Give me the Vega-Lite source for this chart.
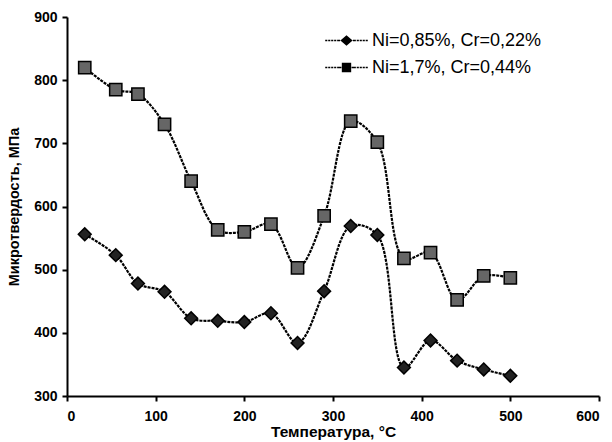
{
  "$schema": "https://vega.github.io/schema/vega-lite/v6.json",
  "width": 532,
  "height": 379,
  "autosize": {"type": "none"},
  "padding": {"left": 67, "top": 17, "right": 13, "bottom": 46},
  "background": "white",
  "config": {
    "view": {"stroke": null},
    "font": "Liberation Sans",
    "axis": {
      "grid": false,
      "domainColor": "black",
      "domainWidth": 2,
      "tickColor": "black",
      "tickWidth": 2,
      "tickSize": 5,
      "labelFont": "Liberation Sans",
      "labelFontWeight": "bold",
      "labelFontSize": 14,
      "labelColor": "black",
      "titleFont": "Liberation Sans",
      "titleFontWeight": "bold",
      "titleFontSize": 14.5,
      "titleColor": "black"
    }
  },
  "data": {
    "values": [
      {"t": 20, "v": 556, "s": "Ni=0,85%, Cr=0,22%"},
      {"t": 55, "v": 523, "s": "Ni=0,85%, Cr=0,22%"},
      {"t": 80, "v": 478, "s": "Ni=0,85%, Cr=0,22%"},
      {"t": 110, "v": 465, "s": "Ni=0,85%, Cr=0,22%"},
      {"t": 140, "v": 423, "s": "Ni=0,85%, Cr=0,22%"},
      {"t": 170, "v": 419, "s": "Ni=0,85%, Cr=0,22%"},
      {"t": 200, "v": 417, "s": "Ni=0,85%, Cr=0,22%"},
      {"t": 230, "v": 431, "s": "Ni=0,85%, Cr=0,22%"},
      {"t": 260, "v": 384, "s": "Ni=0,85%, Cr=0,22%"},
      {"t": 290, "v": 466, "s": "Ni=0,85%, Cr=0,22%"},
      {"t": 320, "v": 569, "s": "Ni=0,85%, Cr=0,22%"},
      {"t": 350, "v": 555, "s": "Ni=0,85%, Cr=0,22%"},
      {"t": 380, "v": 345, "s": "Ni=0,85%, Cr=0,22%"},
      {"t": 410, "v": 388, "s": "Ni=0,85%, Cr=0,22%"},
      {"t": 440, "v": 356, "s": "Ni=0,85%, Cr=0,22%"},
      {"t": 470, "v": 342, "s": "Ni=0,85%, Cr=0,22%"},
      {"t": 500, "v": 332, "s": "Ni=0,85%, Cr=0,22%"},
      {"t": 20, "v": 820, "s": "Ni=1,7%, Cr=0,44%"},
      {"t": 55, "v": 785, "s": "Ni=1,7%, Cr=0,44%"},
      {"t": 80, "v": 778, "s": "Ni=1,7%, Cr=0,44%"},
      {"t": 110, "v": 730, "s": "Ni=1,7%, Cr=0,44%"},
      {"t": 140, "v": 640, "s": "Ni=1,7%, Cr=0,44%"},
      {"t": 170, "v": 563, "s": "Ni=1,7%, Cr=0,44%"},
      {"t": 200, "v": 560, "s": "Ni=1,7%, Cr=0,44%"},
      {"t": 230, "v": 572, "s": "Ni=1,7%, Cr=0,44%"},
      {"t": 260, "v": 503, "s": "Ni=1,7%, Cr=0,44%"},
      {"t": 290, "v": 585, "s": "Ni=1,7%, Cr=0,44%"},
      {"t": 320, "v": 735, "s": "Ni=1,7%, Cr=0,44%"},
      {"t": 350, "v": 702, "s": "Ni=1,7%, Cr=0,44%"},
      {"t": 380, "v": 518, "s": "Ni=1,7%, Cr=0,44%"},
      {"t": 410, "v": 527, "s": "Ni=1,7%, Cr=0,44%"},
      {"t": 440, "v": 452, "s": "Ni=1,7%, Cr=0,44%"},
      {"t": 470, "v": 490, "s": "Ni=1,7%, Cr=0,44%"},
      {"t": 500, "v": 487, "s": "Ni=1,7%, Cr=0,44%"}
    ]
  },
  "encoding": {
    "x": {
      "field": "t", "type": "quantitative",
      "scale": {"domain": [0, 600], "nice": false},
      "axis": {"values": [0, 100, 200, 300, 400, 500, 600], "title": "Температура, °C", "labelPadding": 8, "titlePadding": 1, "titleFontSize": 15.5}
    },
    "y": {
      "field": "v", "type": "quantitative",
      "scale": {"domain": [300, 900], "nice": false, "zero": false},
      "axis": {"values": [300, 400, 500, 600, 700, 800, 900], "title": "Микротвердость, МПа", "labelPadding": 5, "titlePadding": 12}
    }
  },
  "resolve": {"scale": {"shape": "independent"}, "legend": {"shape": "independent"}},
  "layer": [
    {
      "mark": {"type": "line", "interpolate": "catmull-rom", "color": "black", "strokeWidth": 2.2, "strokeDash": [3, 1]},
      "encoding": {"detail": {"field": "s"}}
    },
    {
      "mark": {"type": "point", "filled": true, "opacity": 1, "strokeWidth": 1.5},
      "encoding": {
        "shape": {
          "field": "s", "type": "nominal",
          "scale": {"domain": ["Ni=0,85%, Cr=0,22%", "Ni=1,7%, Cr=0,44%"], "range": ["diamond", "square"]},
          "legend": null
        },
        "size": {"condition": {"test": "datum.s === 'Ni=1,7%, Cr=0,44%'", "value": 150}, "value": 165},
        "fill": {"condition": {"test": "datum.s === 'Ni=1,7%, Cr=0,44%'", "value": "#666"}, "value": "#222"},
        "stroke": {"value": "black"}
      }
    },
    {
      "mark": {"type": "point", "filled": true, "opacity": 1, "strokeWidth": 1, "size": 0},
      "encoding": {
        "shape": {
          "field": "s", "type": "nominal",
          "scale": {
            "domain": ["Ni=0,85%, Cr=0,22%", "Ni=1,7%, Cr=0,44%"],
            "range": [
              "M-2.5,-0.09L-2.25,-0.09L-2.25,0.09L-2.5,0.09ZM-2.15,-0.09L-1.9,-0.09L-1.9,0.09L-2.15,0.09ZM-1.8,-0.09L-1.55,-0.09L-1.55,0.09L-1.8,0.09ZM-1.45,-0.09L-1.2,-0.09L-1.2,0.09L-1.45,0.09ZM-1.1,-0.09L-0.75,-0.09L-0.75,0.09L-1.1,0.09ZM-0.72,0L0,-0.62L0.72,0L0,0.62ZM0.75,-0.09L1.1,-0.09L1.1,0.09L0.75,0.09ZM1.2,-0.09L1.45,-0.09L1.45,0.09L1.2,0.09ZM1.55,-0.09L1.8,-0.09L1.8,0.09L1.55,0.09ZM1.9,-0.09L2.15,-0.09L2.15,0.09L1.9,0.09ZM2.25,-0.09L2.5,-0.09L2.5,0.09L2.25,0.09Z",
              "M-2.5,-0.09L-2.25,-0.09L-2.25,0.09L-2.5,0.09ZM-2.15,-0.09L-1.9,-0.09L-1.9,0.09L-2.15,0.09ZM-1.8,-0.09L-1.55,-0.09L-1.55,0.09L-1.8,0.09ZM-1.45,-0.09L-1.2,-0.09L-1.2,0.09L-1.45,0.09ZM-1.1,-0.09L-0.6,-0.09L-0.6,0.09L-1.1,0.09ZM-0.55,-0.55L0.55,-0.55L0.55,0.55L-0.55,0.55ZM0.6,-0.09L1.1,-0.09L1.1,0.09L0.6,0.09ZM1.2,-0.09L1.45,-0.09L1.45,0.09L1.2,0.09ZM1.55,-0.09L1.8,-0.09L1.8,0.09L1.55,0.09ZM1.9,-0.09L2.15,-0.09L2.15,0.09L1.9,0.09ZM2.25,-0.09L2.5,-0.09L2.5,0.09L2.25,0.09Z"
            ]
          },
          "legend": {
            "orient": "none",
            "legendX": 270,
            "legendY": 14,
            "title": null,
            "labelFontSize": 18,
            "labelFont": "Liberation Sans",
            "labelColor": "black",
            "labelOffset": 16,
            "labelLimit": 400,
            "rowPadding": 8,
            "symbolSize": 290,
            "symbolOpacity": 1,
            "symbolStrokeColor": "black",
            "symbolStrokeWidth": 1
          }
        },
        "fill": {
          "field": "s", "type": "nominal",
          "scale": {"domain": ["Ni=0,85%, Cr=0,22%", "Ni=1,7%, Cr=0,44%"], "range": ["black", "#3a3a3a"]}
        },
        "stroke": {"value": "black"}
      }
    }
  ]
}
